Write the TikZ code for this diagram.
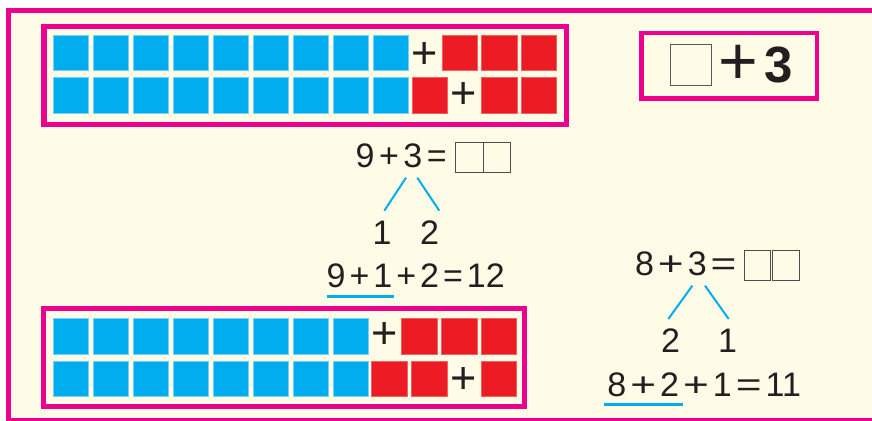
\documentclass[tikz,border=0pt]{standalone}
\usepackage{fontspec}
\usepackage{graphicx}
\setmainfont{Liberation Sans}
\definecolor{mag}{HTML}{EC008C}
\definecolor{cyanc}{HTML}{00AEEF}
\definecolor{redc}{HTML}{ED1C24}
\definecolor{cream}{HTML}{FEFBE6}
\definecolor{inkc}{HTML}{231F20}
\newcommand\kk{\kern4.5pt}
\newcommand\kw{\kern4pt}
\newcommand\wplus{\scalebox{1.3}[1]{+}}
\newcommand\weq{\scalebox{1.3}[1]{=}}
\begin{document}
\begin{tikzpicture}[x=1pt,y=-1pt,
 sq/.style={minimum width=35.5pt, minimum height=35.5pt, inner sep=0pt, outer sep=0pt, line width=0.8pt},
 bsq/.style={sq, fill=cyanc, draw=cyanc!55!white},
 rsq/.style={sq, fill=redc, draw=redc!70!white},
 magframe/.style={draw=mag, line width=5pt},
 eqn/.style={inner sep=0pt, outer sep=0pt, text=inkc, font=\fontsize{34}{34}\selectfont},
 plus/.style={inner sep=0pt, outer sep=0pt, text=inkc, font=\fontsize{45}{45}\selectfont},
 tie/.style={draw=cyanc, line width=2pt},
 uline/.style={draw=cyanc, line width=3pt},
 ansbox/.style={draw=inkc!80, line width=1.1pt, inner sep=0pt, outer sep=0pt}]
\useasboundingbox (0,0) rectangle (872,420);
\clip (0,0) rectangle (872,420);
\fill[white] (0,0) rectangle (872,420);
% outer frame
\draw[magframe, fill=cream] (8.5,10.5) rectangle (900,420.5);
% top block
\draw[magframe, line width=5.5pt] (43.75,26.75) rectangle (566.25,124.25);
\foreach \k in {0,...,8}{
  \node[bsq] (ta\k) at ({70.75+40*\k},53) {};
  \node[bsq] (tb\k) at ({70.75+40*\k},95.3) {};
}
\node[plus] (tp1) at (424.5,55.5) {+};
\node[rsq] (tr1) at (459.75,53) {};
\node[rsq] (tr2) at (499.25,53) {};
\node[rsq] (tr3) at (538.75,53) {};
\node[rsq] (tr4) at (429.75,95.3) {};
\node[plus] (tp2) at (464,96) {+};
\node[rsq] (tr5) at (499.25,95.3) {};
\node[rsq] (tr6) at (538.75,95.3) {};
% bottom block
\draw[magframe] (43.5,308.5) rectangle (524.5,406.5);
\foreach \k in {0,...,7}{
  \node[bsq] (ba\k) at ({70.75+40*\k},336.5) {};
  \node[bsq] (bb\k) at ({70.75+40*\k},378.9) {};
}
\node[plus] (bp1) at (384.5,336) {+};
\node[rsq] (br1) at (419.5,336.5) {};
\node[rsq] (br2) at (459.5,336.5) {};
\node[rsq] (br3) at (498.75,336.5) {};
\node[rsq] (br4) at (389.5,378.9) {};
\node[rsq] (br5) at (429.5,378.9) {};
\node[plus] (bp2) at (464,381) {+};
\node[rsq] (br6) at (498.75,378.9) {};
% top right box
\draw[draw=mag, line width=4.5pt] (641.25,33.25) rectangle (817,98.5);
\node[ansbox, draw=inkc!75, line width=0.9pt, minimum width=40.3pt, minimum height=41.4pt] (qb) at (690.85,65) {};
\node[inner sep=0pt, text=inkc, font=\fontsize{68}{68}\selectfont] (qp) at (737.9,65) {+};
\node[inner sep=0pt, text=inkc, font=\fontsize{51}{51}\bfseries] (q3) at (778.9,65) {3};
% left equation
\node[eqn] (l1) at (401.2,155.5) {9\kk+\kk3\kk=};
\node[ansbox, minimum width=28pt, minimum height=30pt] (la1) at (469.7,157.3) {};
\node[ansbox, minimum width=27pt, minimum height=30pt] (la2) at (497.2,157.3) {};
\node[eqn] (ln1) at (382,232.5) {1};
\node[eqn] (ln2) at (429.5,232.5) {2};
\coordinate (lt1) at (406,177.7);
\coordinate (lt2) at (384.3,210.7);
\coordinate (lt3) at (417.3,177.7);
\coordinate (lt4) at (439.3,210.7);
\draw[tie] (lt1) -- (lt2);
\draw[tie] (lt3) -- (lt4);
\node[eqn] (l2) at (415.8,275.8) {9\kw+\kw1\kw+\kw2\kw=\kw12};
\coordinate (lu1) at (326.7,296.7);
\coordinate (lu2) at (394.3,296.7);
\draw[uline] (lu1) -- (lu2);
% right equation
\node[eqn] (r1) at (685.8,264.2) {8\kw\wplus\kw3\kw\weq};
\node[ansbox, minimum width=26pt, minimum height=30pt] (ra1) at (757.3,265.7) {};
\node[ansbox, minimum width=27pt, minimum height=30pt] (ra2) at (785.8,265.7) {};
\node[eqn] (rn1) at (670.5,340.5) {2};
\node[eqn] (rn2) at (727.5,340.5) {1};
\coordinate (rt1) at (692.3,285.7);
\coordinate (rt2) at (668.3,319);
\coordinate (rt3) at (705,285.7);
\coordinate (rt4) at (728.7,319);
\draw[tie] (rt1) -- (rt2);
\draw[tie] (rt3) -- (rt4);
\node[eqn] (r2) at (704.2,385) {8\kw\wplus\kw2\kw\wplus\kw1\kw\weq\kw11};
\coordinate (ru1) at (604,404.3);
\coordinate (ru2) at (682.7,404.3);
\draw[uline] (ru1) -- (ru2);
\end{tikzpicture}
\end{document}
